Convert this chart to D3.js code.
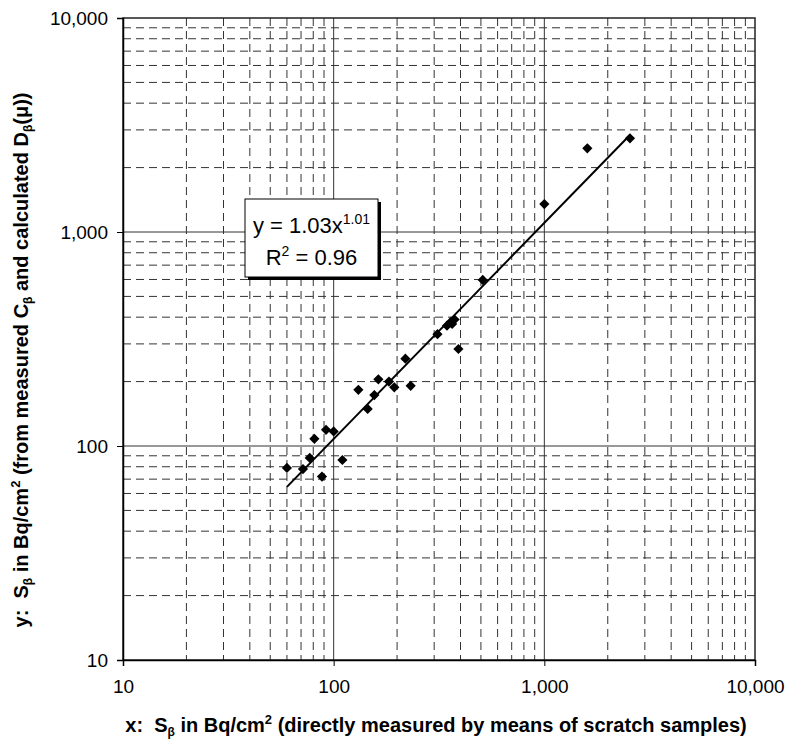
<!DOCTYPE html>
<html>
<head>
<meta charset="utf-8">
<script src="https://cdn.jsdelivr.net/npm/d3@7"></script>
<style>
  body { margin: 0; background: #fff; }
  text { font-family: "Liberation Sans", Arial, sans-serif; white-space: pre; }
</style>
</head>
<body>
<div id="chart"></div>
<script>
const xValues = [60, 71.5, 77, 81, 88, 92, 100, 110, 131, 145, 156, 163, 183, 194, 232, 219, 311, 345, 360, 375, 365, 391, 510, 1000, 1600, 2550];
const yValues = [79, 78, 88, 108, 72, 119, 117, 86, 183, 149, 173, 205, 200, 188, 191, 256, 333, 365, 380, 390, 372, 284, 597, 1350, 2460, 2740];

// power-law fit endpoints (straight on log-log)
const trendX = [60, 2550];
const trendY = [64.4, 2840];

const tickValues = [10, 100, 1000, 10000];

const width = 788,
  height = 740;

const x = d3.scaleLog().domain([10, 10000]).range([123, 755]);
const y = d3.scaleLog().domain([10, 10000]).range([660, 18]);

const svg = d3.select("#chart")
  .append("svg")
  .attr("width", width)
  .attr("height", height);

svg.append("rect").attr("width", width).attr("height", height).attr("fill", "#fff");

// minor values 20..90, 200..900 etc
const minor = [];
for (let p of [10, 100, 1000]) {
  for (let m = 2; m <= 9; m++) minor.push(m * p);
}

const grid = svg.append("g");
grid.selectAll(".vminor")
  .data(minor)
  .join("line")
  .attr("x1", d => x(d)).attr("x2", d => x(d))
  .attr("y1", y(10000)).attr("y2", y(10))
  .attr("stroke", "#333")
  .attr("stroke-dasharray", "8,5");

grid.selectAll(".hminor")
  .data(minor)
  .join("line")
  .attr("y1", d => y(d)).attr("y2", d => y(d))
  .attr("x1", x(10)).attr("x2", x(10000))
  .attr("stroke", "#333")
  .attr("stroke-dasharray", "8,5");

grid.selectAll(".vmajor")
  .data(tickValues.slice(1, 3))
  .join("line")
  .attr("x1", d => x(d)).attr("x2", d => x(d))
  .attr("y1", y(10000)).attr("y2", y(10))
  .attr("stroke", "#333");

grid.selectAll(".hmajor")
  .data(tickValues.slice(1, 3))
  .join("line")
  .attr("y1", d => y(d)).attr("y2", d => y(d))
  .attr("x1", x(10)).attr("x2", x(10000))
  .attr("stroke", "#333");

// plot border
svg.append("rect")
  .attr("x", x(10)).attr("y", y(10000))
  .attr("width", x(10000) - x(10)).attr("height", y(10) - y(10000))
  .attr("fill", "none")
  .attr("stroke", "#222")
  .attr("stroke-width", 1.5);

// axes
const fmt = d3.format(",");

svg.append("g")
  .attr("transform", `translate(0,${y(10)})`)
  .call(d3.axisBottom(x).tickValues(tickValues).tickFormat(fmt).tickSize(6).tickPadding(14))
  .call(g => g.select(".domain").attr("stroke", "#000").attr("stroke-width", 1.5))
  .call(g => g.selectAll(".tick line").attr("stroke", "#000"))
  .call(g => g.selectAll(".tick text").attr("font-size", 19).attr("fill", "#000")
    .attr("font-family", "Liberation Sans, Arial, sans-serif"));

svg.append("g")
  .attr("transform", `translate(${x(10)},0)`)
  .call(d3.axisLeft(y).tickValues(tickValues).tickFormat(fmt).tickSize(6).tickPadding(9))
  .call(g => g.select(".domain").attr("stroke", "#000").attr("stroke-width", 1.5))
  .call(g => g.selectAll(".tick line").attr("stroke", "#000"))
  .call(g => g.selectAll(".tick text").attr("font-size", 19).attr("fill", "#000")
    .attr("font-family", "Liberation Sans, Arial, sans-serif"));

// trendline
const trend = trendX.map((d, i) => [d, trendY[i]]);
svg.append("path")
  .datum(trend)
  .attr("fill", "none")
  .attr("stroke", "#000")
  .attr("stroke-width", 2)
  .attr("d", d3.line().x(d => x(d[0])).y(d => y(d[1])));

// points
const pts = xValues.map((d, i) => [d, yValues[i]]);
svg.append("g")
  .selectAll("path")
  .data(pts)
  .join("path")
  .attr("transform", d => `translate(${x(d[0])},${y(d[1])}) rotate(45)`)
  .attr("d", d3.symbol(d3.symbolSquare, 52))
  .attr("fill", "#000");

// equation box
const box = svg.append("g").attr("transform", "translate(245,199)");
box.append("rect").attr("x", 3).attr("y", 3).attr("width", 133).attr("height", 78).attr("fill", "#000");
box.append("rect").attr("width", 133).attr("height", 78).attr("fill", "#fff").attr("stroke", "#000");

const eq1 = box.append("text").attr("x", 66.5).attr("y", 34).attr("text-anchor", "middle").attr("font-size", 22);
eq1.append("tspan").text("y = 1.03x");
eq1.append("tspan").attr("dy", -9).attr("font-size", 14).text("1.01");

const eq2 = box.append("text").attr("x", 66.5).attr("y", 66).attr("text-anchor", "middle").attr("font-size", 22);
eq2.append("tspan").text("R");
eq2.append("tspan").attr("dy", -9).attr("font-size", 14).text("2");
eq2.append("tspan").attr("dy", 9).text(" = 0.96");

// axis titles
const xt = svg.append("text")
  .attr("x", 436).attr("y", 732)
  .attr("text-anchor", "middle")
  .attr("font-size", 20)
  .attr("font-weight", "bold");
xt.append("tspan").text("x:  S");
xt.append("tspan").attr("dy", 4).attr("font-size", 12).text("β");
xt.append("tspan").attr("dy", -4).text(" in Bq/cm");
xt.append("tspan").attr("dy", -8).attr("font-size", 13).text("2");
xt.append("tspan").attr("dy", 8).text(" (directly measured by means of scratch samples)");

const yt = svg.append("text")
  .attr("transform", "translate(28,360) rotate(-90)")
  .attr("text-anchor", "middle")
  .attr("font-size", 20)
  .attr("font-weight", "bold");
yt.append("tspan").text("y:  S");
yt.append("tspan").attr("dy", 4).attr("font-size", 12).text("β");
yt.append("tspan").attr("dy", -4).text(" in Bq/cm");
yt.append("tspan").attr("dy", -8).attr("font-size", 13).text("2");
yt.append("tspan").attr("dy", 8).text(" (from measured C");
yt.append("tspan").attr("dy", 4).attr("font-size", 12).text("β");
yt.append("tspan").attr("dy", -4).text(" and calculated D");
yt.append("tspan").attr("dy", 4).attr("font-size", 12).text("β");
yt.append("tspan").attr("dy", -4).text("(μ))");
</script>
</body>
</html>
